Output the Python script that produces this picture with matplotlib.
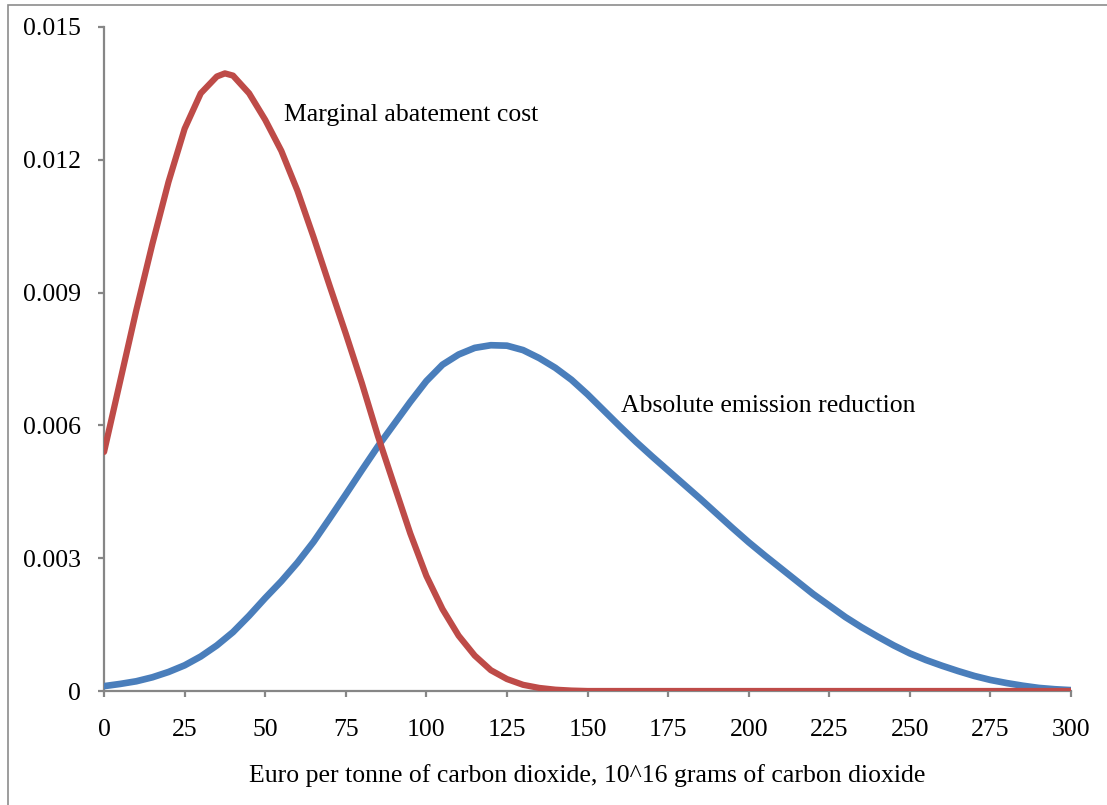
import matplotlib.pyplot as plt
from matplotlib.patches import Rectangle

plt.rcParams['font.family'] = ['Liberation Serif', 'DejaVu Serif']

# Marginal abatement cost
mac_x = [0, 5, 10, 15, 20, 25, 30, 35, 37.5, 40, 45, 50, 55, 60, 65, 70, 75, 80,
         85, 90, 95, 100, 105, 110, 115, 120, 125, 130, 135, 140, 145, 150,
         175, 200, 225, 250, 275, 300]
mac_y = [0.0054, 0.0070, 0.0086, 0.0101, 0.0115, 0.0127, 0.0135, 0.01388, 0.01395,
         0.0139, 0.0135, 0.0129, 0.0122, 0.0113, 0.01025, 0.00915, 0.00807, 0.00695,
         0.00575, 0.00465, 0.00356, 0.0026, 0.00185, 0.00125, 0.00080, 0.00047,
         0.00027, 0.00014, 0.00007, 0.00003, 0.00001, 0,
         0, 0, 0, 0, 0, 0]

# Absolute emission reduction
aer_x = list(range(0, 301, 5))
aer_y = [0.00011, 0.00016, 0.00022, 0.00031, 0.00043, 0.00058, 0.00078, 0.00103,
         0.00133, 0.00170, 0.00210, 0.00248, 0.00290, 0.00337, 0.00390, 0.00444,
         0.00499, 0.00553, 0.00603, 0.00653, 0.00700, 0.00737, 0.00760, 0.00775,
         0.00781, 0.00780, 0.00770, 0.00752, 0.00730, 0.00703, 0.00670, 0.00634,
         0.00598, 0.00563, 0.00530, 0.00498, 0.00466, 0.00434, 0.00401, 0.00368,
         0.00336, 0.00306, 0.00277, 0.00248, 0.00219, 0.00193, 0.00167, 0.00144,
         0.00123, 0.00103, 0.00085, 0.00070, 0.00057, 0.00045, 0.00034, 0.00025,
         0.00018, 0.00012, 0.00007, 0.00004, 0.00002]

xticks = list(range(0, 301, 25))
yticks = [0, 0.003, 0.006, 0.009, 0.012, 0.015]
ytick_labels = ['0', '0.003', '0.006', '0.009', '0.012', '0.015']

fig = plt.figure(figsize=(11.07, 8.05), dpi=100)
ax = fig.add_axes([0.094, 0.1416, 0.8735, 0.825])

# moldura cinza em volta da figura
fig.patches.append(Rectangle((8/1107, -0.1), 1.2, 1 - 5/805 + 0.1,
                             transform=fig.transFigure, fill=False,
                             edgecolor='#8c8c8c', linewidth=1.2))

ax.plot(aer_x, aer_y, color='#4A7EBB', linewidth=4.8, solid_capstyle='round')
ax.plot(mac_x, mac_y, color='#BE4B48', linewidth=4.5, solid_capstyle='round')

ax.text(55.8, 0.01300, 'Marginal abatement cost', fontsize=18.5, va='center')
ax.text(160.4, 0.00643, 'Absolute emission reduction', fontsize=18.5, va='center')

ax.set_xlim(0, 300)
ax.set_ylim(0, 0.015)
ax.set_xticks(xticks)
ax.set_yticks(yticks)
ax.set_yticklabels(ytick_labels)
ax.set_xlabel('Euro per tonne of carbon dioxide, 10^16 grams of carbon dioxide',
              fontsize=18.5, labelpad=16)

for s in ['top', 'right']:
    ax.spines[s].set_visible(False)
for s in ['left', 'bottom']:
    ax.spines[s].set_color('#868686')
    ax.spines[s].set_linewidth(1.6)
    ax.spines[s].set_zorder(0)
ax.tick_params(axis='both', color='#868686', width=1.6, length=4.5,
               labelsize=18.5, direction='out')
ax.tick_params(axis='x', pad=16)
ax.tick_params(axis='y', pad=12)

plt.savefig('out.png', dpi=100)
